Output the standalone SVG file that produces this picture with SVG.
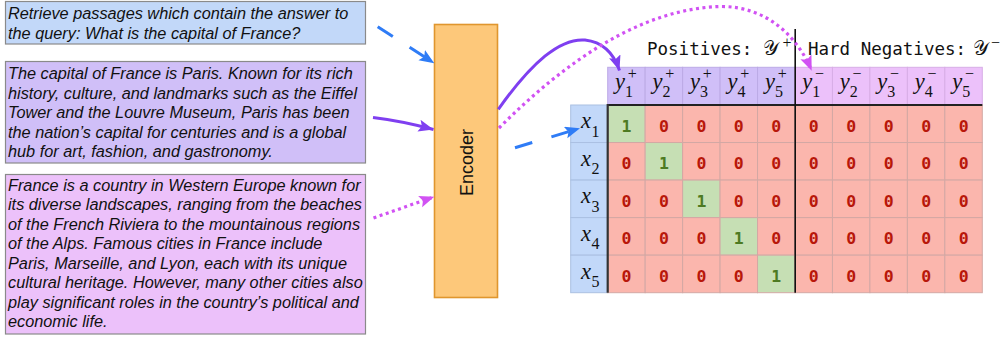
<svg xmlns="http://www.w3.org/2000/svg" width="1001" height="337" viewBox="0 0 1001 337">
<style>
.box{stroke:#8a8a8a;stroke-width:1.2}
.pt{font-family:"Liberation Sans",Arial,sans-serif;font-style:italic;font-size:16.3px;fill:#111}
.enc{font-family:"Liberation Sans",Arial,sans-serif;font-size:18px;fill:#111}
.hd{font-family:"DejaVu Sans Mono",monospace;font-size:17.5px;fill:#111}
.scr{font-family:"DejaVu Serif","Liberation Serif",serif;font-size:20px;fill:#111}
.v{font-family:"Liberation Serif","Times New Roman",serif;font-style:italic;font-size:22.5px;fill:#111}
.s{font-family:"Liberation Serif","Times New Roman",serif;font-size:16px;fill:#111}
.p{font-family:"Liberation Serif","Times New Roman",serif;font-size:16px;fill:#111}
.z{font-family:"DejaVu Sans Mono",monospace;font-weight:bold;font-size:16.5px;fill:#b8170a;text-anchor:middle}
.o{font-family:"DejaVu Sans Mono",monospace;font-weight:bold;font-size:16.5px;fill:#4d7a22;text-anchor:middle}
.r{fill:#fbb6ad;stroke:#d3a8a4;stroke-width:1}
.g{fill:#c6dfb4;stroke:#d3a8a4;stroke-width:1}
.hp{fill:#d0bff8;stroke:#bcaae6;stroke-width:1}
.hn{fill:#ecc1fa;stroke:#d8aee6;stroke-width:1}
.rl{fill:#c2d8f9;stroke:#aac0e2;stroke-width:1}
.blue{fill:none;stroke:#2f7cf6;stroke-width:3;stroke-dasharray:18 20}
.purp{fill:none;stroke:#7f3ff0;stroke-width:3}
.mag{fill:none;stroke:#d152f3;stroke-width:3.2;stroke-dasharray:3 3.5}
</style>
<defs>
<marker id="ab" markerUnits="userSpaceOnUse" markerWidth="16" markerHeight="14" refX="15" refY="6" orient="auto"><path d="M0,0 L15,6 L0,12 L3,6 z" fill="#2f7cf6"/></marker>
<marker id="ap" markerUnits="userSpaceOnUse" markerWidth="16" markerHeight="14" refX="15" refY="6" orient="auto"><path d="M0,0 L15,6 L0,12 L3,6 z" fill="#7f3ff0"/></marker>
<marker id="am" markerUnits="userSpaceOnUse" markerWidth="16" markerHeight="14" refX="15" refY="6" orient="auto"><path d="M0,0 L15,6 L0,12 L3,6 z" fill="#d152f3"/></marker>
</defs>

<g id="query">
<rect class="box" x="5.5" y="1.5" width="360" height="42.5" fill="#c2d8f9"/>
<text class="pt" x="8" y="19">Retrieve passages which contain the answer to</text>
<text class="pt" x="8" y="38.5">the query: What is the capital of France?</text>
</g>

<g id="positive-passage">
<rect class="box" x="5.5" y="61.5" width="360" height="101.5" fill="#d0bff8"/>
<text class="pt" x="8" y="79">The capital of France is Paris. Known for its rich</text>
<text class="pt" x="8" y="98.5">history, culture, and landmarks such as the Eiffel</text>
<text class="pt" x="8" y="118">Tower and the Louvre Museum, Paris has been</text>
<text class="pt" x="8" y="137.5">the nation’s capital for centuries and is a global</text>
<text class="pt" x="8" y="157">hub for art, fashion, and gastronomy.</text>
</g>

<g id="negative-passage">
<rect class="box" x="5.5" y="174.5" width="360" height="159.5" fill="#ecc1fa"/>
<text class="pt" x="8" y="190.5">France is a country in Western Europe known for</text>
<text class="pt" x="8" y="210">its diverse landscapes, ranging from the beaches</text>
<text class="pt" x="8" y="229.5">of the French Riviera to the mountainous regions</text>
<text class="pt" x="8" y="249">of the Alps. Famous cities in France include</text>
<text class="pt" x="8" y="268.5">Paris, Marseille, and Lyon, each with its unique</text>
<text class="pt" x="8" y="288">cultural heritage. However, many other cities also</text>
<text class="pt" x="8" y="307.5">play significant roles in the country’s political and</text>
<text class="pt" x="8" y="327">economic life.</text>
</g>

<g id="encoder">
<rect x="434.5" y="24.5" width="63" height="273" fill="#fdc87a" stroke="#e0962e" stroke-width="1.6"/>
<text class="enc" transform="translate(472.5,162.5) rotate(-90)" text-anchor="middle">Encoder</text>
</g>

<g id="matrix">
<rect class="hp" x="607.7" y="67.3" width="37.46" height="37.7"/>
<rect class="hp" x="645.16" y="67.3" width="37.46" height="37.7"/>
<rect class="hp" x="682.62" y="67.3" width="37.46" height="37.7"/>
<rect class="hp" x="720.08" y="67.3" width="37.46" height="37.7"/>
<rect class="hp" x="757.54" y="67.3" width="37.46" height="37.7"/>
<rect class="hn" x="795.0" y="67.3" width="37.46" height="37.7"/>
<rect class="hn" x="832.46" y="67.3" width="37.46" height="37.7"/>
<rect class="hn" x="869.92" y="67.3" width="37.46" height="37.7"/>
<rect class="hn" x="907.38" y="67.3" width="37.46" height="37.7"/>
<rect class="hn" x="944.84" y="67.3" width="37.46" height="37.7"/>
<rect class="rl" x="570.7" y="105" width="37" height="37.54"/>
<rect class="rl" x="570.7" y="142.54" width="37" height="37.54"/>
<rect class="rl" x="570.7" y="180.08" width="37" height="37.54"/>
<rect class="rl" x="570.7" y="217.62" width="37" height="37.54"/>
<rect class="rl" x="570.7" y="255.16" width="37" height="37.54"/>
<g>
<rect class="g" x="607.7" y="105" width="37.46" height="37.54"/>
<rect class="r" x="645.16" y="105" width="37.46" height="37.54"/>
<rect class="r" x="682.62" y="105" width="37.46" height="37.54"/>
<rect class="r" x="720.08" y="105" width="37.46" height="37.54"/>
<rect class="r" x="757.54" y="105" width="37.46" height="37.54"/>
<rect class="r" x="795.0" y="105" width="37.46" height="37.54"/>
<rect class="r" x="832.46" y="105" width="37.46" height="37.54"/>
<rect class="r" x="869.92" y="105" width="37.46" height="37.54"/>
<rect class="r" x="907.38" y="105" width="37.46" height="37.54"/>
<rect class="r" x="944.84" y="105" width="37.46" height="37.54"/>
</g>
<g>
<rect class="r" x="607.7" y="142.54" width="37.46" height="37.54"/>
<rect class="g" x="645.16" y="142.54" width="37.46" height="37.54"/>
<rect class="r" x="682.62" y="142.54" width="37.46" height="37.54"/>
<rect class="r" x="720.08" y="142.54" width="37.46" height="37.54"/>
<rect class="r" x="757.54" y="142.54" width="37.46" height="37.54"/>
<rect class="r" x="795.0" y="142.54" width="37.46" height="37.54"/>
<rect class="r" x="832.46" y="142.54" width="37.46" height="37.54"/>
<rect class="r" x="869.92" y="142.54" width="37.46" height="37.54"/>
<rect class="r" x="907.38" y="142.54" width="37.46" height="37.54"/>
<rect class="r" x="944.84" y="142.54" width="37.46" height="37.54"/>
</g>
<g>
<rect class="r" x="607.7" y="180.08" width="37.46" height="37.54"/>
<rect class="r" x="645.16" y="180.08" width="37.46" height="37.54"/>
<rect class="g" x="682.62" y="180.08" width="37.46" height="37.54"/>
<rect class="r" x="720.08" y="180.08" width="37.46" height="37.54"/>
<rect class="r" x="757.54" y="180.08" width="37.46" height="37.54"/>
<rect class="r" x="795.0" y="180.08" width="37.46" height="37.54"/>
<rect class="r" x="832.46" y="180.08" width="37.46" height="37.54"/>
<rect class="r" x="869.92" y="180.08" width="37.46" height="37.54"/>
<rect class="r" x="907.38" y="180.08" width="37.46" height="37.54"/>
<rect class="r" x="944.84" y="180.08" width="37.46" height="37.54"/>
</g>
<g>
<rect class="r" x="607.7" y="217.62" width="37.46" height="37.54"/>
<rect class="r" x="645.16" y="217.62" width="37.46" height="37.54"/>
<rect class="r" x="682.62" y="217.62" width="37.46" height="37.54"/>
<rect class="g" x="720.08" y="217.62" width="37.46" height="37.54"/>
<rect class="r" x="757.54" y="217.62" width="37.46" height="37.54"/>
<rect class="r" x="795.0" y="217.62" width="37.46" height="37.54"/>
<rect class="r" x="832.46" y="217.62" width="37.46" height="37.54"/>
<rect class="r" x="869.92" y="217.62" width="37.46" height="37.54"/>
<rect class="r" x="907.38" y="217.62" width="37.46" height="37.54"/>
<rect class="r" x="944.84" y="217.62" width="37.46" height="37.54"/>
</g>
<g>
<rect class="r" x="607.7" y="255.16" width="37.46" height="37.54"/>
<rect class="r" x="645.16" y="255.16" width="37.46" height="37.54"/>
<rect class="r" x="682.62" y="255.16" width="37.46" height="37.54"/>
<rect class="r" x="720.08" y="255.16" width="37.46" height="37.54"/>
<rect class="g" x="757.54" y="255.16" width="37.46" height="37.54"/>
<rect class="r" x="795.0" y="255.16" width="37.46" height="37.54"/>
<rect class="r" x="832.46" y="255.16" width="37.46" height="37.54"/>
<rect class="r" x="869.92" y="255.16" width="37.46" height="37.54"/>
<rect class="r" x="907.38" y="255.16" width="37.46" height="37.54"/>
<rect class="r" x="944.84" y="255.16" width="37.46" height="37.54"/>
</g>
<g>
<text class="o" x="626.4" y="131.7">1</text><text class="z" x="663.9" y="131.7">0</text><text class="z" x="701.4" y="131.7">0</text><text class="z" x="738.8" y="131.7">0</text><text class="z" x="776.3" y="131.7">0</text><text class="z" x="813.7" y="131.7">0</text><text class="z" x="851.2" y="131.7">0</text><text class="z" x="888.7" y="131.7">0</text><text class="z" x="926.1" y="131.7">0</text><text class="z" x="963.6" y="131.7">0</text>
<text class="z" x="626.4" y="169.2">0</text><text class="o" x="663.9" y="169.2">1</text><text class="z" x="701.4" y="169.2">0</text><text class="z" x="738.8" y="169.2">0</text><text class="z" x="776.3" y="169.2">0</text><text class="z" x="813.7" y="169.2">0</text><text class="z" x="851.2" y="169.2">0</text><text class="z" x="888.7" y="169.2">0</text><text class="z" x="926.1" y="169.2">0</text><text class="z" x="963.6" y="169.2">0</text>
<text class="z" x="626.4" y="206.8">0</text><text class="z" x="663.9" y="206.8">0</text><text class="o" x="701.4" y="206.8">1</text><text class="z" x="738.8" y="206.8">0</text><text class="z" x="776.3" y="206.8">0</text><text class="z" x="813.7" y="206.8">0</text><text class="z" x="851.2" y="206.8">0</text><text class="z" x="888.7" y="206.8">0</text><text class="z" x="926.1" y="206.8">0</text><text class="z" x="963.6" y="206.8">0</text>
<text class="z" x="626.4" y="244.3">0</text><text class="z" x="663.9" y="244.3">0</text><text class="z" x="701.4" y="244.3">0</text><text class="o" x="738.8" y="244.3">1</text><text class="z" x="776.3" y="244.3">0</text><text class="z" x="813.7" y="244.3">0</text><text class="z" x="851.2" y="244.3">0</text><text class="z" x="888.7" y="244.3">0</text><text class="z" x="926.1" y="244.3">0</text><text class="z" x="963.6" y="244.3">0</text>
<text class="z" x="626.4" y="281.9">0</text><text class="z" x="663.9" y="281.9">0</text><text class="z" x="701.4" y="281.9">0</text><text class="z" x="738.8" y="281.9">0</text><text class="o" x="776.3" y="281.9">1</text><text class="z" x="813.7" y="281.9">0</text><text class="z" x="851.2" y="281.9">0</text><text class="z" x="888.7" y="281.9">0</text><text class="z" x="926.1" y="281.9">0</text><text class="z" x="963.6" y="281.9">0</text>
</g>
<g>
<text class="v" x="615" y="88.5">y</text><text class="s" x="625" y="96.5">1</text><text class="p" x="627.8" y="79">+</text>
<text class="v" x="652.5" y="88.5">y</text><text class="s" x="662.5" y="96.5">2</text><text class="p" x="665.3" y="79">+</text>
<text class="v" x="690" y="88.5">y</text><text class="s" x="700" y="96.5">3</text><text class="p" x="702.8" y="79">+</text>
<text class="v" x="727.4" y="88.5">y</text><text class="s" x="737.4" y="96.5">4</text><text class="p" x="740.2" y="79">+</text>
<text class="v" x="764.9" y="88.5">y</text><text class="s" x="774.9" y="96.5">5</text><text class="p" x="777.7" y="79">+</text>
<text class="v" x="802.3" y="88.5">y</text><text class="s" x="812.3" y="96.5">1</text><text class="p" x="815.1" y="79">−</text>
<text class="v" x="839.8" y="88.5">y</text><text class="s" x="849.8" y="96.5">2</text><text class="p" x="852.6" y="79">−</text>
<text class="v" x="877.3" y="88.5">y</text><text class="s" x="887.3" y="96.5">3</text><text class="p" x="890.1" y="79">−</text>
<text class="v" x="914.7" y="88.5">y</text><text class="s" x="924.7" y="96.5">4</text><text class="p" x="927.5" y="79">−</text>
<text class="v" x="952.2" y="88.5">y</text><text class="s" x="962.2" y="96.5">5</text><text class="p" x="965" y="79">−</text>
</g>
<g>
<text class="v" x="581" y="128.3">x</text><text class="s" x="591.5" y="136.7">1</text>
<text class="v" x="581" y="165.8">x</text><text class="s" x="591.5" y="174.2">2</text>
<text class="v" x="581" y="203.4">x</text><text class="s" x="591.5" y="211.8">3</text>
<text class="v" x="581" y="240.9">x</text><text class="s" x="591.5" y="249.3">4</text>
<text class="v" x="581" y="278.5">x</text><text class="s" x="591.5" y="286.9">5</text>
</g>
<line x1="607.7" y1="105" x2="982.3" y2="105" stroke="#222" stroke-width="2"/>
<line x1="607.7" y1="104" x2="607.7" y2="292.7" stroke="#333" stroke-width="2.2"/>
<line x1="795.2" y1="29" x2="795.2" y2="292.7" stroke="#111" stroke-width="1.6"/>
<text class="hd" x="647" y="55">Positives:</text>
<text class="scr" x="763" y="55">𝒴</text><text class="p" x="782.5" y="48">+</text>
<text class="hd" x="808" y="55">Hard Negatives:</text>
<text class="scr" x="972.5" y="55">𝒴</text><text class="p" x="991" y="48">−</text>
</g>

<g id="connectors">
<path class="blue" d="M377.7,26.7 L434.3,63.3" marker-end="url(#ab)"/>
<path class="purp" d="M373,117.5 Q402,121 433.5,129.5" marker-end="url(#ap)"/>
<path class="mag" d="M373.5,218 L434.3,196.7" marker-end="url(#am)"/>
<path class="blue" d="M515,147.7 L580,128.3" marker-end="url(#ab)"/>
<path class="purp" d="M498.3,109.3 C532,62 560,38 585,40 C603,42 614,54 619.5,70.5" marker-end="url(#ap)"/>
<path class="mag" d="M499,128 C565,62 640,9 720,6.5 C768,6 798,38 811.7,70.7" marker-end="url(#am)"/>
</g>
</svg>
